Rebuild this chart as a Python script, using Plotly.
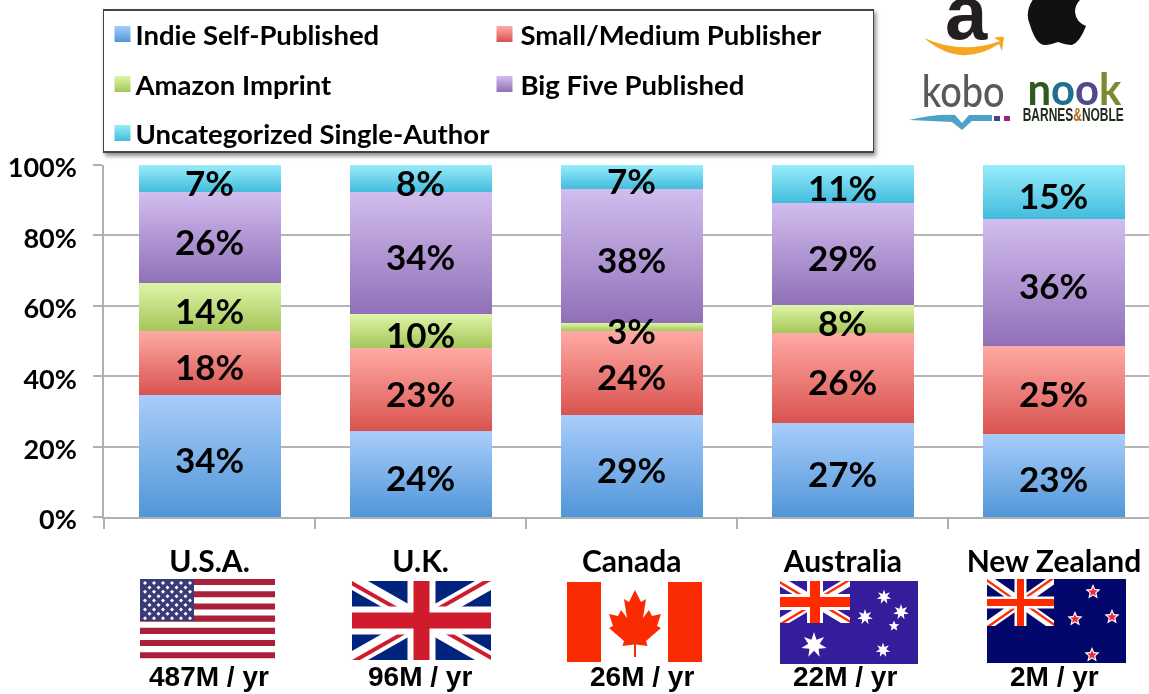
import json, math
import plotly.graph_objects as go

countries = ["U.S.A.", "U.K.", "Canada", "Australia", "New Zealand"]
rates = ["487M / yr", "96M / yr", "26M / yr", "22M / yr", "2M / yr"]
series = ["Indie Self-Published", "Small/Medium Publisher", "Amazon Imprint",
          "Big Five Published", "Uncategorized Single-Author"]
indie = [34.7, 24.4, 29.0, 26.7, 23.6]
small = [18.1, 23.6, 23.8, 25.6, 25.0]
amazon = [13.7, 9.7, 2.3, 7.9, 0.0]
big5 = [25.8, 34.6, 38.1, 29.0, 36.1]
uncat = [7.7, 7.7, 6.8, 10.8, 15.3]
indie_lbl = ["34%", "24%", "29%", "27%", "23%"]
small_lbl = ["18%", "23%", "24%", "26%", "25%"]
amazon_lbl = ["14%", "10%", "3%", "8%", ""]
big5_lbl = ["26%", "34%", "38%", "29%", "36%"]
uncat_lbl = ["7%", "8%", "7%", "11%", "15%"]
y_ticks = [0, 20, 40, 60, 80, 100]
y_labels = ["0%", "20%", "40%", "60%", "80%", "100%"]
grad_top = ["#a9cdfb", "#ffaaa5", "#dff5a8", "#d2bdee", "#98ecfb"]
grad_bot = ["#5096d8", "#d9534f", "#a4c75a", "#9070b8", "#42bcdd"]
solid = ["#7db1ea", "#ec7f7a", "#c2de82", "#b198d4", "#6dd4ec"]

W, H = 1149, 694
L, T, B = 104, 165, 517
def X(p): return (p - L) / (W - L)
def Y(p): return (B - p) / (B - T)

shapes, annos = [], []
def path(d, color):
    shapes.append(dict(type="path", xref="paper", yref="paper", path=d, fillcolor=color,
                       line=dict(width=0), layer="above"))
def poly(pts, color):
    path("M" + "L".join(f"{X(a):.5f},{Y(b):.5f}" for a, b in pts) + "Z", color)
def rect(x0, y0, x1, y1, color):
    poly([(x0, y0), (x1, y0), (x1, y1), (x0, y1)], color)
def cmd(*parts):
    out = []
    for p in parts:
        if isinstance(p, str):
            out.append(p)
        else:
            out.append(f"{X(p[0]):.5f},{Y(p[1]):.5f}")
    return " ".join(out)
def star(cx, cy, r, n, inner, color):
    pts = []
    for i in range(2 * n):
        a = -math.pi / 2 + i * math.pi / n
        rr = r if i % 2 == 0 else r * inner
        pts.append((cx + rr * math.cos(a), cy + rr * math.sin(a)))
    poly(pts, color)
def text(x, y, s, size, family="Lato", color="#000", weight=700, ya="middle"):
    annos.append(dict(x=X(x), y=Y(y), xref="paper", yref="paper", text=s, showarrow=False,
                      xanchor="center", yanchor=ya,
                      font=dict(family=family, size=size, color=color, weight=weight)))

def jack(x0, y0, x1, y1, blue, red, cw, cwr, dw):
    cx, cy = (x0 + x1) / 2, (y0 + y1) / 2
    rect(x0, y0, x1, y1, blue)
    d = dw
    dy = d * (y1 - y0) / (x1 - x0)
    poly([(x0, y0), (x0 + d, y0), (x1, y1 - dy), (x1, y1), (x1 - d, y1), (x0, y0 + dy)], "#fff")
    poly([(x1, y0), (x1, y0 + dy), (x0 + d, y1), (x0, y1), (x0, y1 - dy), (x1 - d, y0)], "#fff")
    rd, rdy = d * 0.5, dy * 0.5
    poly([(x0, y0), (cx, cy), (cx - rd, cy), (x0, y0 + rdy)], red)
    poly([(x1, y1), (cx, cy), (cx + rd, cy), (x1, y1 - rdy)], red)
    poly([(x1, y0), (cx, cy), (cx, cy - rdy), (x1 - rd, y0)], red)
    poly([(x0, y1), (cx, cy), (cx, cy + rdy), (x0 + rd, y1)], red)
    rect(cx - cw, y0, cx + cw, y1, "#fff")
    rect(x0, cy - cw, x1, cy + cw, "#fff")
    rect(cx - cwr, y0, cx + cwr, y1, red)
    rect(x0, cy - cwr, x1, cy + cwr, red)

# U.S.A. flag
for k in range(7):
    rect(140, 579 + k * 12.2, 275, 585.1 + k * 12.2, "#a9203a")
rect(140, 579, 194, 621, "#3b3b77")
for r in range(9):
    n = 6 if r % 2 == 0 else 5
    for c in range(n):
        sx = 145 + c * 9 + (0 if r % 2 == 0 else 4.5)
        sy = 583 + r * 4.4
        poly([(sx, sy - 2), (sx + 2, sy), (sx, sy + 2), (sx - 2, sy)], "#fff")
# U.K. flag
jack(352, 581, 491, 660, "#00247d", "#cf1b2b", 14, 8, 16)
# Canada flag
rect(567, 582, 601, 662, "#fa2b00")
rect(668, 582, 702, 662, "#fa2b00")
leaf = [(0, 590), (6, 602), (11, 599), (8, 618), (14, 610), (17, 616), (26, 614), (22, 626),
        (26, 628), (11, 641), (12.5, 646), (1, 644.5), (1, 657)]
poly([(635 + a, b) for a, b in leaf] + [(635 - a, b) for a, b in reversed(leaf)], "#fa2b00")
# Australia flag
rect(780, 581, 918, 664, "#351c9b")
jack(780, 581, 850, 623, "#351c9b", "#ff2a00", 8, 5, 9)
star(814, 645, 13, 7, 0.45, "#fff")
for sx, sy, r in [(884, 597, 7.5), (901, 612, 8), (865, 617, 8), (883, 650, 7.5)]:
    star(sx, sy, r, 7, 0.45, "#fff")
star(894, 626, 5.5, 5, 0.45, "#fff")
# New Zealand flag
rect(987, 579, 1126, 663, "#03076b")
jack(987, 579, 1054, 626, "#03076b", "#ff2a00", 6, 3.5, 8)
for sx, sy in [(1093, 592), (1112, 617), (1075, 619), (1092, 655)]:
    star(sx, sy, 8, 5, 0.45, "#fff")
    star(sx, sy, 5, 5, 0.45, "#f0283a")

# rates under flags
for cx, s in zip([209, 420, 642, 845, 1054], rates):
    text(cx, 676, s, 28, family="Liberation Sans")

# logos
text(966, 13, "a", 76, family="Liberation Sans", color="#231f20")
path(cmd("M", (924, 38), "Q", (962, 55), (1000, 41), "L", (994, 38), "Q", (1000, 36), (1004, 37),
         "L", (1002, 51), "L", (999, 44), "Q", (960, 69), (924, 38), "Z"), "#f5a623")
path(cmd("M", (1034, -2), "Q", (1024, 12), (1030, 25), "Q", (1036, 45), (1045, 45), "Q", (1050, 45),
         (1058, 42), "Q", (1066, 45), (1072, 45), "Q", (1080, 42), (1086, 26), "Q", (1076, 22),
         (1075, 12), "Q", (1075, 4), (1082, -2), "Z"), "#111")
text(963, 90, "kobo", 45, color="#58595b", weight=500)
path(cmd("M", (909, 120), "Q", (935, 114), (955, 115), "L", (962, 123), "L", (969, 115), "L", (992, 115),
         "L", (992, 121), "L", (972, 121), "L", (962, 130), "L", (952, 122), "Z"), "#4da3c7")
rect(994, 116, 1000, 121, "#4a3f8f")
rect(1004, 116, 1010, 121, "#a0207f")
text(1074, 88, "<span style='color:#2f5a1e'>n</span><span style='color:#1f6f8f'>o</span>"
     "<span style='color:#4e4a8c'>o</span><span style='color:#7c8b2f'>k</span>", 44, weight=700)
text(1073, 114, "BARNES<span style='color:#b5651d'>&amp;</span>NOBLE", 19,
     family="Liberation Sans", color="#1f2a1c")

vals = [indie, small, amazon, big5, uncat]
lbls = [indie_lbl, small_lbl, amazon_lbl, big5_lbl, uncat_lbl]

# percent labels, anchored to the stacked segment middles
base = [0.0] * len(countries)
for v, t in zip(vals, lbls):
    for i, c in enumerate(countries):
        if t[i]:
            annos.append(dict(x=c, y=base[i] + v[i] / 2, xref="x", yref="y", text=t[i], showarrow=False,
                              yshift=-3, font=dict(family="Lato", size=35, color="#000", weight=700)))
        base[i] += v[i]

fig = go.Figure()
for name, v, c in zip(series, vals, solid):
    fig.add_bar(name=name, x=countries, y=v, width=142 / 211, marker=dict(color=c, line=dict(width=0)))

fig.update_layout(
    width=W, height=H, barmode="stack", hovermode=False, plot_bgcolor="#fff", paper_bgcolor="#fff",
    margin=dict(l=L, r=0, t=T, b=H - B, autoexpand=False),
    font=dict(family="Lato", color="#000", weight=700),
    showlegend=True,
    legend=dict(orientation="h", x=X(102.5), y=Y(9), xanchor="left", yanchor="top",
                bgcolor="#fff", bordercolor="#444", borderwidth=1.5,
                font=dict(family="Lato", size=27.5, color="#000", weight=700),
                entrywidth=385, entrywidthmode="pixels", traceorder="normal"),
    xaxis=dict(type="category", categoryorder="array", categoryarray=countries,
               range=[-0.5, (W - 210) / 211], tickson="boundaries", ticks="outside", ticklen=10,
               tickwidth=1.5, tickcolor="#b0b0b0", showline=True, linecolor="#b0b0b0", linewidth=1.5,
               ticklabelstandoff=17, tickfont=dict(family="Lato", size=30, weight=700), showgrid=False),
    yaxis=dict(range=[0, 100], tickvals=y_ticks, ticktext=y_labels, ticks="outside", ticklen=9, tickwidth=1.5,
               tickcolor="#b0b0b0", showline=True, linecolor="#b0b0b0", linewidth=1.5, showgrid=True,
               gridcolor="#b5b5b5", gridwidth=1.5, zeroline=False, ticklabelstandoff=11,
               tickfont=dict(family="Lato", size=27, weight=700)),
    shapes=shapes, annotations=annos,
)

post = """
(function(){
document.documentElement.style.margin='0';
document.body.style.margin='0';
document.body.style.overflow='hidden';
var gd=document.getElementById('{plot_id}');
gd.style.filter='blur(0.4px)';
var top=%s, bot=%s;
var NS='http://www.w3.org/2000/svg';
var svg=gd.querySelector('svg.main-svg');
var defs=svg.querySelector('defs')||svg.insertBefore(document.createElementNS(NS,'defs'),svg.firstChild);
top.forEach(function(c,i){
  var g=document.createElementNS(NS,'linearGradient');
  g.setAttribute('id','barg'+i);g.setAttribute('x1','0');g.setAttribute('y1','0');g.setAttribute('x2','0');g.setAttribute('y2','1');
  [[0,c],[1,bot[i]]].forEach(function(s){var e=document.createElementNS(NS,'stop');e.setAttribute('offset',s[0]);e.setAttribute('stop-color',s[1]);g.appendChild(e);});
  defs.appendChild(g);
});
gd.querySelectorAll('.barlayer .trace.bars').forEach(function(t,i){
  t.querySelectorAll('.point path').forEach(function(p){p.style.fill='url(#barg'+i+')';});
});
var cols=[0,382], rows=[25,75,124], tx=[33,36];
var lg=gd.querySelector('.legend');
var sb=lg.querySelector('.scrollbox'); if(sb) sb.removeAttribute('clip-path');
lg.removeAttribute('clip-path');
lg.querySelectorAll('.scrollbar').forEach(function(e){e.remove();});
var bg=lg.querySelector('rect.bg');
bg.setAttribute('width',770);bg.setAttribute('height',142);bg.style.filter='drop-shadow(2px 3px 2px rgba(0,0,0,0.45))';
lg.querySelectorAll('.traces').forEach(function(t,i){
  var c=i%%2, r=Math.floor(i/2);
  t.setAttribute('transform','translate('+cols[c]+','+rows[r]+')');
  var p=t.querySelector('.legendpoints path');
  if(p){p.setAttribute('d','M8,8H-8V-8H8Z');p.style.fill='url(#barg'+i+')';p.style.stroke='none';}
  var tt=t.querySelector('text');
  if(tt){tt.setAttribute('x',tx[c]);}
});
gd.querySelectorAll('.ytick text').forEach(function(t){t.setAttribute('dy','3');});
var fit={'BARNES':101,'kobo':83,'nook':94};
gd.querySelectorAll('.annotation text').forEach(function(t){
  Object.keys(fit).forEach(function(k){
    if(t.textContent.indexOf(k)===0){t.setAttribute('textLength',fit[k]);t.setAttribute('lengthAdjust','spacingAndGlyphs');}
  });
});
})();
""" % (json.dumps(grad_top), json.dumps(grad_bot))

fig.write_html("out.html", post_script=post, config=dict(displayModeBar=False))
